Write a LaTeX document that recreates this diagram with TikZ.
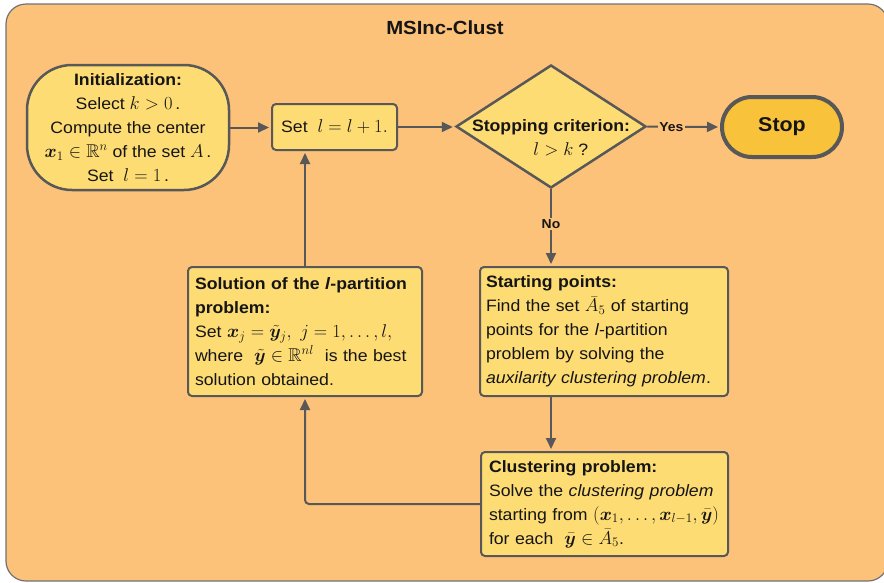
\documentclass[tikz,border=0pt]{standalone}
\usepackage{fix-cm}
\usepackage{amsmath,amssymb,bm}
\usepackage{fontspec}
\setmainfont{Liberation Sans}[FakeStretch=1.07]
\usetikzlibrary{arrows.meta,shapes.geometric}
\DeclareMathSizes{16.5}{18.5}{13}{10}
\definecolor{bgorange}{HTML}{FCC279}
\definecolor{boxyellow}{HTML}{FDDC74}
\definecolor{stopyellow}{HTML}{F8C23A}
\definecolor{linegray}{HTML}{585858}
\definecolor{txt}{HTML}{151515}
\newcommand\bodyfont{\fontsize{16.5}{24}\selectfont}
\tikzset{
  base/.style={draw=linegray, fill=boxyellow, text=txt, font=\bodyfont, inner ysep=0pt},
  box/.style={base, line width=2pt, rounded corners=4pt, align=left},
  arr/.style={draw=linegray, line width=2pt, -{Triangle[length=11pt,width=10pt]}, shorten >=2pt},
  lbl/.style={fill=bgorange, text=txt, font=\bfseries\fontsize{13}{15}\selectfont, inner sep=1.5pt},
}
\begin{document}
\begin{tikzpicture}[x=1pt,y=-1pt]
\useasboundingbox (0,0) rectangle (884,582);
\clip (0,0) rectangle (884,582);
\draw[draw=linegray!85, line width=1.2pt, fill=bgorange, rounded corners=20pt] (6,4) rectangle (888,581);
\node[text=txt, font=\bfseries\fontsize{19}{22}\selectfont] (title) at (445,28) {MSInc-Clust};

\node[base, line width=2.5pt, rounded corners=45pt, minimum width=202pt, minimum height=125pt, align=center, inner xsep=0pt] (init) at (128,127.5)
  {\textbf{Initialization:}\\ Select $k>0$\,.\\ Compute the center\\ $\bm{x}_1\in\mathbb{R}^n$ of the set $A$\,.\\ Set\ \ $l=1$\,.};

\node[box, minimum width=125pt, minimum height=46pt, align=center] (setb) at (334.5,127) {Set\ \ $l=l+1.$};

\node[base, diamond, line width=2.5pt, minimum width=190pt, minimum height=123pt, inner sep=0pt] (crit) at (551,126.5) {};
\node[text=txt, font=\bodyfont, align=center, inner sep=0pt] (critlbl) at (551,138) {\textbf{Stopping criterion:}\\ \ \ \ \ $l>k$ ?};

\node[base, fill=stopyellow, line width=4pt, rounded corners=30pt, minimum width=120pt, minimum height=60pt] (stop) at (782,127)
  {\textbf{\fontsize{20}{22}\selectfont Stop}};

\node[box, minimum width=248pt, minimum height=129pt, inner xsep=6pt, text width=236pt] (sp) at (604,331.5)
  {\textbf{Starting points:}\\ Find the set $\bar{A}_5$ of starting\\ points for the \textit{l}-partition\\ problem by solving the\\ \textit{auxilarity clustering problem}.};

\node[box, minimum width=247pt, minimum height=104pt, inner xsep=8pt, text width=231pt] (cl) at (604.5,504)
  {\textbf{Clustering problem:}\\ Solve the \textit{clustering problem}\\ starting from $(\bm{x}_1,\ldots,\bm{x}_{l-1},\bar{\bm{y}})$\\ for each\ \ $\bar{\bm{y}}\in\bar{A}_5$.};

\node[box, minimum width=234pt, minimum height=129pt, inner xsep=7pt, text width=220pt] (sol) at (305,331.5)
  {\textbf{Solution of the \textit{l}-partition}\\ \textbf{problem:}\\ Set $\bm{x}_j=\tilde{\bm{y}}_j,\ j=1,\ldots,l,$\\ where\ \ $\tilde{\bm{y}}\in\mathbb{R}^{nl}$\ \ is the best\\ solution obtained.};

\draw[arr] (init.east) -- (setb.west |- init.east);
\draw[arr] (setb.east) -- (crit.west |- setb.east);
\draw[arr] (crit.east) -- node[lbl, pos=0.33] (yes) {Yes} (stop.west);
\draw[arr] (crit.south) -- node[lbl, pos=0.45] (no) {No} (crit.south |- sp.north);
\draw[arr] (crit.south |- sp.south) -- (crit.south |- cl.north);
\draw[arr, rounded corners=4pt] (cl.west) -| (sol.south);
\draw[arr] (sol.north) -- (sol.north |- setb.south);
\end{tikzpicture}
\end{document}
